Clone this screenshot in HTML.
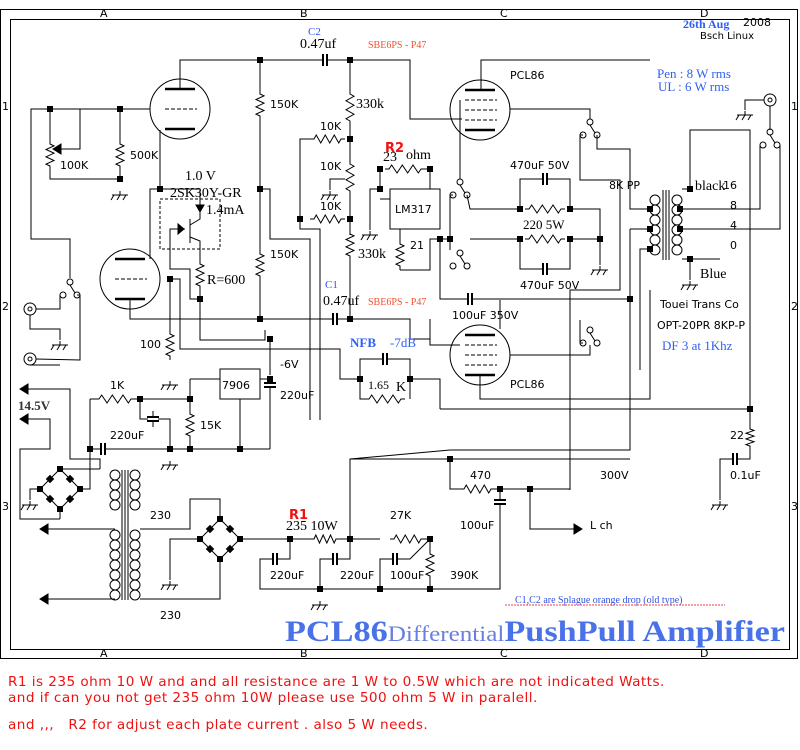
<!DOCTYPE html>
<html><head><meta charset="utf-8"><style>
body{margin:0;background:#fff;width:800px;height:750px;overflow:hidden}
svg{position:absolute;left:0;top:0}
.r{position:absolute;color:#f01010;font-family:"DejaVu Sans",sans-serif;font-size:13.6px;letter-spacing:0.45px;white-space:nowrap}
</style></head><body>
<svg id="s" width="800" height="750" viewBox="0 0 800 750" font-family="DejaVu Sans, sans-serif" font-size="11">
<g id="g" stroke="#000" stroke-width="1" fill="none"></g>
<g id="t" fill="#000"></g>
</svg>
<div class="r" style="left:8px;top:674px">R1 is 235 ohm 10 W and and all resistance are 1 W to 0.5W which are not indicated Watts.</div>
<div class="r" style="left:8px;top:690px">and if can you not get 235 ohm 10W please use 500 ohm 5 W in paralell.</div>
<div class="r" style="left:8px;top:717px">and ,,,&nbsp;&nbsp; R2 for adjust each plate current . also 5 W needs.</div>
<script>
var g=document.getElementById('g'),t=document.getElementById('t'),NS='http://www.w3.org/2000/svg';
function el(p,n,a){var e=document.createElementNS(NS,n);for(var k in a)e.setAttribute(k,a[k]);p.appendChild(e);return e}
function L(){var a=[].slice.call(arguments),s='';for(var i=0;i<a.length;i+=2)s+=(i?'L':'M')+a[i]+' '+a[i+1];el(g,'path',{d:s})}
function D(x,y){el(g,'rect',{x:x-3,y:y-3,width:6,height:6,fill:'#000',stroke:'none'})}
function RV(x,y1,y2){var s='M'+x+' '+y1+'L'+x+' '+(y1+4);var n=6,h=(y2-y1-8)/n;for(var i=0;i<n;i++)s+='L'+(x+(i%2?-4:4))+' '+(y1+4+h*(i+0.5));s+='L'+x+' '+(y2-4)+'L'+x+' '+y2;el(g,'path',{d:s})}
function RH(y,x1,x2){var s='M'+x1+' '+y+'L'+(x1+4)+' '+y;var n=6,h=(x2-x1-8)/n;for(var i=0;i<n;i++)s+='L'+(x1+4+h*(i+0.5))+' '+(y+(i%2?4:-4));s+='L'+(x2-4)+' '+y+'L'+x2+' '+y;el(g,'path',{d:s})}
function G(x,y){L(x,y-4,x,y);L(x-8,y,x+8,y);for(var i=-6;i<=6;i+=6)L(x+i,y,x+i-3,y+5)}
function CH(x,y){L(x-8,y,x-2,y);L(x+2,y,x+8,y);el(g,'path',{d:'M'+(x-2)+' '+(y-6)+'V'+(y+6)+'M'+(x+2)+' '+(y-6)+'V'+(y+6),'stroke-width':2})}
function CV(x,y){L(x,y-8,x,y-2);L(x,y+2,x,y+8);el(g,'path',{d:'M'+(x-6)+' '+(y-2)+'H'+(x+6)+'M'+(x-6)+' '+(y+2)+'H'+(x+6),'stroke-width':2})}
function T(x,y,s,o){var e=el(t,'text',Object.assign({x:x,y:y},o||{}));e.textContent=s}
function C(x,y,r){el(g,'circle',{cx:x,cy:y,r:r||3,fill:'#fff'})}
function SW(x,y){C(x,y);C(x-7,y+13);C(x+7,y+13);L(x,y+3,x+5,y+11)}
function tube(cx,cy,pent){el(g,'circle',{cx:cx,cy:cy,r:30});el(g,'path',{d:'M'+(cx-15)+' '+(cy-20)+'H'+(cx+15)+'M'+(cx-15)+' '+(cy+20)+'H'+(cx+15),'stroke-width':2.5});
 if(pent){for(var k=-10;k<=10;k+=10)el(g,'path',{d:'M'+(cx-15)+' '+(cy+k)+'H'+(cx+17),'stroke-dasharray':'4 2'})}else el(g,'path',{d:'M'+(cx-15)+' '+cy+'H'+(cx+17),'stroke-dasharray':'4 2'})}
function bridge(cx,cy){el(g,'path',{d:'M'+cx+' '+(cy-20)+'L'+(cx-20)+' '+cy+'L'+cx+' '+(cy+20)+'L'+(cx+20)+' '+cy+'Z'});
 [[-10,-10],[10,-10],[-10,10],[10,10]].forEach(function(p){el(g,'rect',{x:cx+p[0]-3,y:cy+p[1]-3,width:6,height:6,fill:'#000',stroke:'none',transform:'rotate(45 '+(cx+p[0])+' '+(cy+p[1])+')'})});D(cx,cy-20);D(cx-20,cy);D(cx+20,cy);D(cx,cy+20)}
function coils(x,y1,n){for(var i=0;i<n;i++)el(g,'circle',{cx:x,cy:y1+i*10+5,r:5})}
function arrowL(x,y){el(g,'path',{d:'M'+x+' '+y+'l8 -5v10z',fill:'#000'})}
// frame
el(g,'rect',{x:0.5,y:9.5,width:797,height:649});el(g,'rect',{x:10.5,y:19.5,width:779,height:630});
T(100,17,'A');T(300,17,'B');T(500,17,'C');T(700,17,'D');T(100,657,'A');T(300,657,'B');T(500,657,'C');T(700,657,'D');
T(2,110,'1');T(2,310,'2');T(2,510,'3');T(791,110,'1');T(791,310,'2');T(791,510,'3');
// upper left tube
tube(180,109,0);L(180,89,180,60,323,60);L(327,60,410,60,410,119,462,119);CH(325,60);D(260,60);D(350,60);
L(150,109,31,109,31,239,70,239,70,278);D(50,109);D(120,109);L(50,109,50,140);RV(50,140,170);L(50,170,50,179,120,179);D(120,179);
L(120,109,120,140);RV(120,140,170);L(120,170,120,179);G(120,195);L(80,109,80,149,58,149);el(g,'path',{d:'M53 149l8 -5v10z',fill:'#000'});
L(160,130,160,189,200,189,200,215);D(160,189);el(g,'rect',{x:160,y:199,width:60,height:50,'stroke-dasharray':'3 2'});
el(g,'path',{d:'M196 205l4 7 4 -7z',fill:'#000'});L(190,219,190,243);L(190,225,200,219,200,215);L(190,237,200,241,200,260);L(170,229,185,229,170,229,170,269,190,269,190,299,200,299);el(g,'path',{d:'M184 229l-6 -5v10z',fill:'#000'});
RV(200,260,290);L(200,290,200,299);D(200,299);L(200,299,200,340,265,340,265,330);
// 150K column
L(260,60,260,90);RV(260,90,120);L(260,120,260,250);RV(260,250,280);L(260,280,260,319);D(260,189);D(260,319);
L(260,189,270,189,270,239,310,239,310,420);
// lower left tube
tube(130,279,0);L(150,259,150,189,160,189);L(130,299,130,319,333,319);CH(335,319);L(339,319,350,319);D(350,319);
L(170,279,180,279,180,349,340,349,340,379,360,379);D(170,279);L(170,279,170,330);RV(170,330,360);G(170,385);
// input jacks
C(30,309,6);C(30,309,2);C(30,359,6);C(30,359,2);L(36,309,60,309,60,295);SW(70,282);L(30,315,30,329,60,329,60,340);G(60,345);L(30,365,60,365);L(77,295,80,295,80,360,36,359);
// 330k column
L(350,60,350,90);RV(350,90,125);L(350,125,350,160);D(350,139);RV(350,160,195);L(350,195,350,235);D(350,219);RV(350,230,260);L(350,260,350,319);
RH(139,310,345);L(310,139,300,139,300,229,320,229,320,420);RH(219,310,345);D(300,219);L(345,179,330,179,330,190);G(330,195);
L(350,319,410,319,410,339,430,339);
// R2 & LM317
D(380,169);D(380,189);RH(169,385,425);L(380,169,380,189);L(425,169,430,169,430,189);D(430,169);el(g,'rect',{x:390,y:189,width:50,height:40});
L(380,189,370,189,370,230);G(370,235);L(390,199,380,199);L(400,229,400,240);RV(400,240,270);L(400,270,430,270,430,239,450,239);D(440,239);D(450,239);
// top PCL86
tube(480,110,1);L(481,90,481,60,650,60);L(460,100,460,180);SW(460,182);L(453,195,450,195,450,250);SW(460,253);L(467,195,470,209,520,209);
L(510,109,590,109,590,120);SW(590,122);L(583,135,580,135,580,180,620,180,620,290,570,290,570,490);L(597,135,597,149,630,149,630,209,650,209);
D(520,209);D(570,209);RH(209,525,565);L(520,209,520,179,540,179);L(550,179,570,179,570,209);CH(545,179);L(570,209,600,209,600,265);G(600,270);
D(520,239);D(570,239);RH(239,525,565);L(470,239,520,239);L(520,239,520,269,540,269);L(550,269,570,269,570,239);CH(545,269);L(570,239,600,239);D(600,239);
L(440,239,440,299,465,299);CH(470,299);L(475,299,630,299);D(630,299);L(630,229,650,229);L(630,229,630,450,450,450,350,459);
// transformer
coils(655,195,6);coils(677,195,6);L(663,190,663,260);L(666,190,666,260);L(669,190,669,260);
D(650,209);D(650,229);D(650,249);L(650,249,640,249,640,370);L(630,229,630,450);
D(690,189);D(680,209);D(680,229);D(690,259);L(682,189,690,189,690,130,750,130,750,409);L(680,209,760,209,760,145);L(680,229,780,229,780,145);L(682,259,720,259);L(690,259,690,280);G(690,285);
SW(770,132);L(770,130,770,106);C(770,100,6);C(770,100,2);L(764,100,745,100,745,110);G(745,115);
// bottom PCL86
tube(480,355,1);L(460,345,430,345,430,319);L(500,329,500,300);L(510,355,590,355,590,345);SW(590,330);L(583,343,580,343,580,320);
L(480,375,480,399,650,399,650,290);L(440,409,750,409);D(750,409);L(440,409,440,379,410,379);D(410,379);
// NFB
L(360,379,360,359,380,359);CH(385,359);L(390,359,410,359,410,399);RH(399,365,405);L(360,379,360,399,365,399);D(360,379);
// 22 / 0.1uF
L(750,409,750,425);RV(750,425,450);L(750,450,750,459,740,459);CH(735,459);L(730,459,720,459,720,500);G(720,505);
// 7906 section
el(g,'rect',{x:220,y:369,width:40,height:30});L(270,339,270,375);D(270,339);D(270,379);CV(270,385);L(270,393,270,449);L(260,379,270,379);
L(190,379,220,379);L(240,399,240,449);D(240,449);RH(399,95,135);L(90,399,95,399);L(135,399,190,399);D(140,399);D(190,399);L(190,379,190,410);RV(190,410,440);L(190,440,190,449);D(190,449);
L(140,399,140,419,148,419);CV(153,419);L(158,419,170,419,170,449);D(170,449);G(170,465);L(90,399,90,449,95,449);D(90,449);CH(103,449);L(107,449,270,449);
// 14.5V arrows & small bridge
arrowL(20,389);L(28,389,70,389,70,459,100,459,100,469);arrowL(20,419);L(28,419,50,419,50,449,20,449,20,519,60,519);
bridge(60,489);L(80,489,90,489,90,449);L(40,489,30,489,30,500);G(30,505);L(60,469,100,469);L(60,509,60,519);
coils(115,470,4);coils(115,530,7);coils(135,470,4);coils(135,530,7);L(122,470,122,600);L(125,470,125,600);L(128,470,128,600);
arrowL(40,529);L(48,529,115,529);arrowL(40,599);L(48,599,115,599);
L(140,529,190,529,190,499,220,499,220,519);bridge(220,539);L(200,539,170,539,170,580);G(170,585);L(220,559,220,599,140,599);
// HV
L(240,539,290,539);D(290,539);RH(539,310,340);L(290,539,310,539);L(340,539,350,539);D(350,539);L(350,539,380,539);RH(539,390,425);L(425,539,430,539);D(430,539);
L(290,539,290,559,280,559);CH(275,559);L(270,559,260,559,260,589,430,589);D(320,589);D(380,589);D(430,589);G(320,605);
L(350,539,350,559,340,559);CH(335,559);L(330,559,320,559,320,589);L(380,589,380,559,390,559);CH(395,559);L(400,559,410,559,430,539);
L(430,539,430,550);RV(430,550,580);L(430,580,430,589,500,589,500,510);CV(500,502);L(500,494,500,489);
L(350,539,350,459,630,459);D(450,459);L(450,459,450,489,460,489);RH(489,460,495);L(495,489,530,489,570,489);D(500,489);D(530,489);L(530,489,530,529,575,529);el(g,'path',{d:'M582 529l-8 -5v10z',fill:'#000'});
el(g,'path',{d:'M505 605H725',stroke:'#f04040','stroke-dasharray':'2 1'});
// texts
var S='Liberation Serif, DejaVu Serif, serif';
T(308,35,'C2',{fill:'#3050f0',style:'font:11px '+S});T(300,48,'0.47uf',{style:'font:14px '+S});T(368,48,'SBE6PS - P47',{fill:'#f05030',style:'font:10px '+S});
T(325,288,'C1',{fill:'#3050f0',style:'font:11px '+S});T(323,305,'0.47uf',{style:'font:14px '+S});T(368,305,'SBE6PS - P47',{fill:'#f05030',style:'font:10px '+S});
T(270,108,'150K');T(270,258,'150K');T(356,108,'330k',{style:'font:14px '+S});T(358,258,'330k',{style:'font:14px '+S});
T(320,130,'10K');T(320,170,'10K');T(320,210,'10K');T(60,169,'100K');T(130,159,'500K');
T(185,180,'1.0 V',{style:'font:14px '+S});T(170,197,'2SK30Y-GR',{style:'font:14px '+S});T(206,214,'1.4mA',{style:'font:14px '+S});T(207,284,'R=600',{style:'font:14px '+S});
T(385,152,'R2',{fill:'#f01010',style:'font:bold 13px DejaVu Sans,sans-serif'});T(383,161,'23',{style:'font:14px '+S});T(406,159,'ohm',{style:'font:14px '+S});
T(395,213,'LM317');T(410,249,'21');T(510,169,'470uF 50V');T(523,229,'220  5W',{style:'font:13px '+S});T(520,289,'470uF 50V');T(609,189,'8K PP');
T(510,79,'PCL86');T(510,388,'PCL86');T(452,319,'100uF 350V');
T(683,28,'26th Aug',{fill:'#3060f0',style:'font:bold 12px '+S});T(743,26,'2008');T(700,39,'Bsch Linux',{style:'font:10px DejaVu Sans,sans-serif'});
T(657,78,'Pen : 8 W rms',{fill:'#3060f0',style:'font:13px '+S});T(658,91,'UL :  6 W rms',{fill:'#3060f0',style:'font:13px '+S});
T(695,190,'black',{style:'font:14px '+S});T(723,189,'16');T(730,209,'8');T(730,229,'4');T(730,249,'0');T(700,278,'Blue',{style:'font:14px '+S});
T(660,308,'Touei Trans Co');T(657,329,'OPT-20PR 8KP-P');T(662,350,'DF 3 at 1Khz',{fill:'#3060f0',style:'font:13px '+S});
T(350,347,'NFB',{fill:'#3060f0',style:'font:bold 13px '+S});T(390,347,'-7dB',{fill:'#3060f0',style:'font:13px '+S});T(368,389,'1.65',{style:'font:12px '+S});T(396,391,'K',{style:'font:14px '+S});
T(140,348,'100');T(280,368,'-6V');T(222,389,'7906');T(280,399,'220uF');T(110,389,'1K');T(200,429,'15K');T(110,439,'220uF');
T(18,410,'14.5V',{'font-family':'Liberation Serif, serif','font-size':'13','font-weight':'bold',fill:'#333'});
T(150,519,'230');T(160,619,'230');T(289,519,'R1',{fill:'#f01010',style:'font:bold 13px DejaVu Sans,sans-serif'});T(286,530,'235  10W',{style:'font:14px '+S});
T(270,579,'220uF');T(340,579,'220uF');T(390,579,'100uF');T(390,519,'27K');T(450,579,'390K');T(470,479,'470');T(460,529,'100uF');T(600,479,'300V');T(590,529,'L ch');
T(730,439,'22');T(730,479,'0.1uF');T(515,603,'C1,C2 are Splague orange drop (old type)',{fill:'#3050e0',style:'font:10px '+S});
var tt=el(t,'text',{x:285,y:641,fill:'#4a72e8','font-family':'Liberation Serif, serif',textLength:500,lengthAdjust:'spacingAndGlyphs'});tt.innerHTML='<tspan font-size="30" font-weight="bold">PCL86</tspan><tspan font-size="22" fill="#6a7ee0">Differential</tspan><tspan font-size="30" font-weight="bold">PushPull Amplifier</tspan>';
</script>
</body></html>
